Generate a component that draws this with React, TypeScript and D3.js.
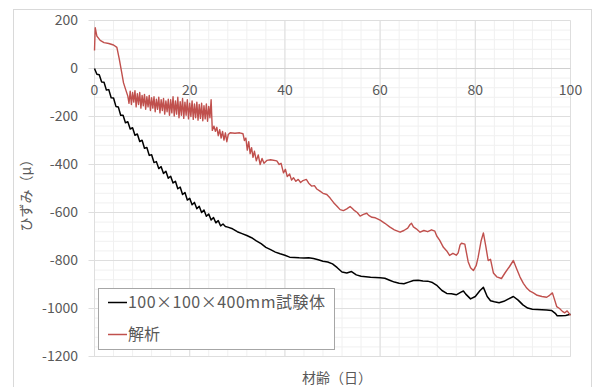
import * as d3 from "d3";

// 100×100×400mm specimen: [day, strain]
const experimental: [number, number][] = [
  [0, 0], [0.5, -24], [1, -26], [1.5, -56], [2, -57], [2.5, -90], [3, -88], [3.5, -122],
  [4, -123], [4.5, -158], [5, -160], [5.5, -195], [6, -195], [6.5, -226], [7, -222],
  [7.5, -252], [8, -247], [8.5, -278], [9, -273], [9.5, -304], [10, -299], [10.5, -332],
  [11, -329], [11.5, -362], [12, -359], [12.5, -392], [13, -388], [13.5, -417], [14, -409],
  [14.5, -437], [15, -428], [15.5, -457], [16, -449], [16.5, -477], [17, -470], [17.5, -501],
  [18, -494], [18.5, -525], [19, -517], [19.5, -548], [20, -541], [20.5, -568], [21, -558],
  [21.5, -584], [22, -574], [22.5, -600], [23, -590], [23.5, -616], [24, -606], [24.5, -631],
  [25, -621], [25.5, -643], [26, -634], [26.5, -656], [27, -648], [27.5, -658], [28, -661],
  [29, -668], [30, -680], [31, -688], [32, -696], [33, -705], [34, -718], [35, -730],
  [36, -745], [37, -755], [38, -765], [39, -772], [40, -778], [41, -786], [42, -787],
  [43, -789], [44, -790], [45, -789], [46, -792], [47, -797], [48, -803], [49, -806],
  [50, -814], [51, -830], [52, -848], [53, -852], [54, -846], [55, -860], [56, -866],
  [57, -868], [58, -870], [59, -871], [60, -872], [61, -874], [62, -882], [63, -890],
  [64, -895], [65, -897], [66, -890], [67, -883], [68, -882], [69, -885], [70, -886],
  [71, -892], [72, -905], [73, -925], [74, -937], [75, -939], [76, -943], [77, -932],
  [77.5, -927], [78, -940], [79, -960], [80, -950], [81, -925], [81.7, -912], [82.5, -950],
  [83.2, -968], [84, -972], [85, -976], [86, -970], [87, -960], [88, -950], [89, -965],
  [90, -985], [91, -998], [92, -1003], [93, -1004], [94, -1005], [95, -1006], [96, -1008],
  [96.8, -1020], [97.2, -1030], [98, -1030], [99, -1029], [100, -1024],
];

// analysis: [day, strain]
const analysis: [number, number][] = [
  [0, 75], [0.15, 170], [0.5, 135], [1.2, 117], [2, 108], [3, 104], [4, 98], [4.7, 88],
  [5.2, 40], [5.7, -15], [6.1, -60], [6.5, -85], [7, -115], [7.25, -145], [7.5, -95],
  [7.75, -150], [8, -100], [8.25, -140], [8.5, -92], [8.75, -160], [9, -105], [9.25, -150],
  [9.5, -100], [9.75, -165], [10, -112], [10.25, -155], [10.5, -108], [10.75, -170],
  [11, -118], [11.25, -160], [11.5, -112], [11.75, -175], [12, -122], [12.25, -165],
  [12.5, -118], [12.75, -180], [13, -128], [13.25, -170], [13.5, -120], [13.75, -185],
  [14, -130], [14.25, -175], [14.5, -125], [14.75, -190], [15, -135], [15.25, -180],
  [15.5, -128], [15.75, -195], [16, -130], [16.25, -185], [16.5, -118], [16.75, -198],
  [17, -135], [17.25, -190], [17.5, -120], [17.75, -205], [18, -138], [18.25, -195],
  [18.5, -125], [18.75, -208], [19, -140], [19.25, -195], [19.5, -130], [19.75, -210],
  [20, -145], [20.25, -200], [20.5, -135], [20.75, -212], [21, -148], [21.25, -205],
  [21.5, -140], [21.75, -215], [22, -150], [22.25, -208], [22.5, -145], [22.75, -218],
  [23, -155], [23.25, -210], [23.5, -148], [23.75, -220], [24, -158], [24.25, -205],
  [24.5, -130], [24.75, -258], [25.1, -240], [25.4, -262], [25.7, -245], [26, -280],
  [26.3, -255], [26.6, -290], [26.9, -262], [27.2, -298], [27.5, -268], [27.8, -305],
  [28.1, -275], [28.5, -268], [29.5, -270], [30.5, -268], [31.2, -272], [31.5, -300],
  [31.8, -290], [32.1, -340], [32.4, -305], [32.7, -355], [33, -330], [33.3, -370],
  [33.6, -345], [34, -385], [34.4, -360], [34.8, -400], [35.2, -375], [35.6, -395],
  [36.2, -383], [37, -380], [38.3, -385], [38.8, -400], [39.2, -395], [39.7, -435],
  [40.1, -420], [40.5, -450], [41, -440], [41.4, -465], [41.8, -455], [42.3, -470],
  [42.8, -462], [43.3, -475], [43.8, -467], [44.5, -462], [45, -478], [45.6, -490],
  [46.2, -488], [46.7, -502], [47.3, -510], [48, -520], [48.8, -525], [49.5, -540],
  [50.2, -558], [51, -575], [51.6, -588], [52.3, -592], [53, -585], [53.7, -575],
  [54, -580], [54.5, -590], [55.2, -600], [55.8, -615], [56.5, -608], [57.2, -603],
  [57.6, -612], [58.3, -620], [59, -622], [60, -632], [61, -645], [62, -660], [63, -672],
  [64.2, -682], [65, -675], [65.8, -665], [66.3, -650], [66.6, -645], [67, -660],
  [67.6, -668], [68.4, -682], [69.2, -675], [70, -680], [70.8, -672], [71.5, -678],
  [71.9, -698], [72.5, -715], [73.3, -745], [74, -760], [74.6, -779], [75.3, -770],
  [76, -778], [76.4, -768], [76.8, -735], [77.1, -728], [77.8, -732], [78.5, -805],
  [79, -830], [79.6, -842], [80.2, -820], [80.6, -786], [81.2, -720], [81.7, -685],
  [82.2, -740], [82.7, -800], [83.2, -795], [83.8, -852], [84.5, -868], [85.5, -875],
  [86.3, -850], [87.2, -825], [88, -800], [88.7, -835], [89.4, -869], [90.1, -895],
  [90.8, -915], [91.5, -928], [92.2, -935], [93, -945], [94, -950], [95, -953],
  [95.6, -945], [96.2, -935], [96.6, -960], [97.1, -992], [97.7, -1000], [98.3, -1012],
  [98.8, -1018], [99.3, -1010], [100, -1029],
];

const xTicks = [0, 20, 40, 60, 80, 100];
const yTicks = [200, 0, -200, -400, -600, -800, -1000, -1200];
const seriesNames = ["100×100×400mm試験体", "解析"];
const seriesColors = ["#000000", "#c0504d"];

const W = 593;
const H = 387;
const font = "'Noto Sans CJK JP', 'Noto Sans', sans-serif";

export default function App() {
  const x = d3.scaleLinear().domain([0, 100]).range([94.5, 570.5]);
  const y = d3.scaleLinear().domain([-1200, 200]).range([356.5, 20.5]);

  const xMinor = d3.range(0, 101, 4);
  const yMinor = d3.range(-1200, 201, 40);

  const line = d3
    .line<[number, number]>()
    .x((d) => x(d[0]))
    .y((d) => y(d[1]));

  return (
    <div style={{ position: "fixed", left: 0, top: 0 }}>
      <svg width={W} height={H} style={{ display: "block", background: "#fff" }}>
        <rect x={13.5} y={9.5} width={578} height={400} fill="#fff" stroke="#d9d9d9" />

        {/* minor grid */}
        {xMinor.map((v) => (
          <line key={"xm" + v} x1={x(v)} x2={x(v)} y1={y(200)} y2={y(-1200)} stroke="#f0f0f0" />
        ))}
        {yMinor.map((v) => (
          <line key={"ym" + v} x1={x(0)} x2={x(100)} y1={y(v)} y2={y(v)} stroke="#f0f0f0" />
        ))}
        {/* major grid */}
        {xTicks.map((v) => (
          <line key={"xg" + v} x1={x(v)} x2={x(v)} y1={y(200)} y2={y(-1200)} stroke="#dedede" />
        ))}
        {yTicks.map((v) => (
          <line key={"yg" + v} x1={x(0) - 6} x2={x(100)} y1={y(v)} y2={y(v)} stroke="#dedede" />
        ))}
        <line x1={x(0)} x2={x(100)} y1={y(0)} y2={y(0)} stroke="#d0d0d0" />

        {/* tick labels */}
        {yTicks.map((v) => (
          <text
            key={"yl" + v}
            x={78}
            y={y(v)}
            dy="0.35em"
            textAnchor="end"
            fontFamily={font}
            fontSize={14}
            fill="#595959"
          >
            {v}
          </text>
        ))}
        {xTicks.map((v) => (
          <text
            key={"xl" + v}
            x={x(v)}
            y={y(0) + 22}
            dy="0.35em"
            textAnchor="middle"
            fontFamily={font}
            fontSize={14}
            fill="#595959"
          >
            {v}
          </text>
        ))}

        {/* series */}
        <path d={line(experimental) ?? ""} fill="none" stroke={seriesColors[0]} strokeWidth={1.5} strokeLinejoin="round" />
        <path d={line(analysis) ?? ""} fill="none" stroke={seriesColors[1]} strokeWidth={1.4} strokeLinejoin="round" />

        {/* axis titles */}
        <text
          transform={`translate(26, 192) rotate(-90)`}
          dy="0.35em"
          textAnchor="middle"
          fontFamily={font}
          fontSize={14}
          fill="#595959"
        >
          ひずみ（μ）
        </text>
        <text
          x={337}
          y={378}
          dy="0.35em"
          textAnchor="middle"
          fontFamily={font}
          fontSize={14}
          fill="#595959"
        >
          材齢（日）
        </text>

        {/* legend */}
        <rect x={98.5} y={288.5} width={236} height={61} fill="#fff" stroke="#a6a6a6" />
        {seriesNames.map((name, i) => (
          <g key={name} transform={`translate(108, ${302.5 + i * 32})`}>
            <line x1={0} x2={19} y1={0} y2={0} stroke={seriesColors[i]} strokeWidth={1.5} />
            <text
              x={20}
              y={0}
              dy="0.35em"
              fontFamily={font}
              fontSize={16}
              fill="#595959"
              textLength={i === 0 ? 197 : undefined}
              lengthAdjust="spacing"
            >
              {name}
            </text>
          </g>
        ))}
      </svg>
    </div>
  );
}
